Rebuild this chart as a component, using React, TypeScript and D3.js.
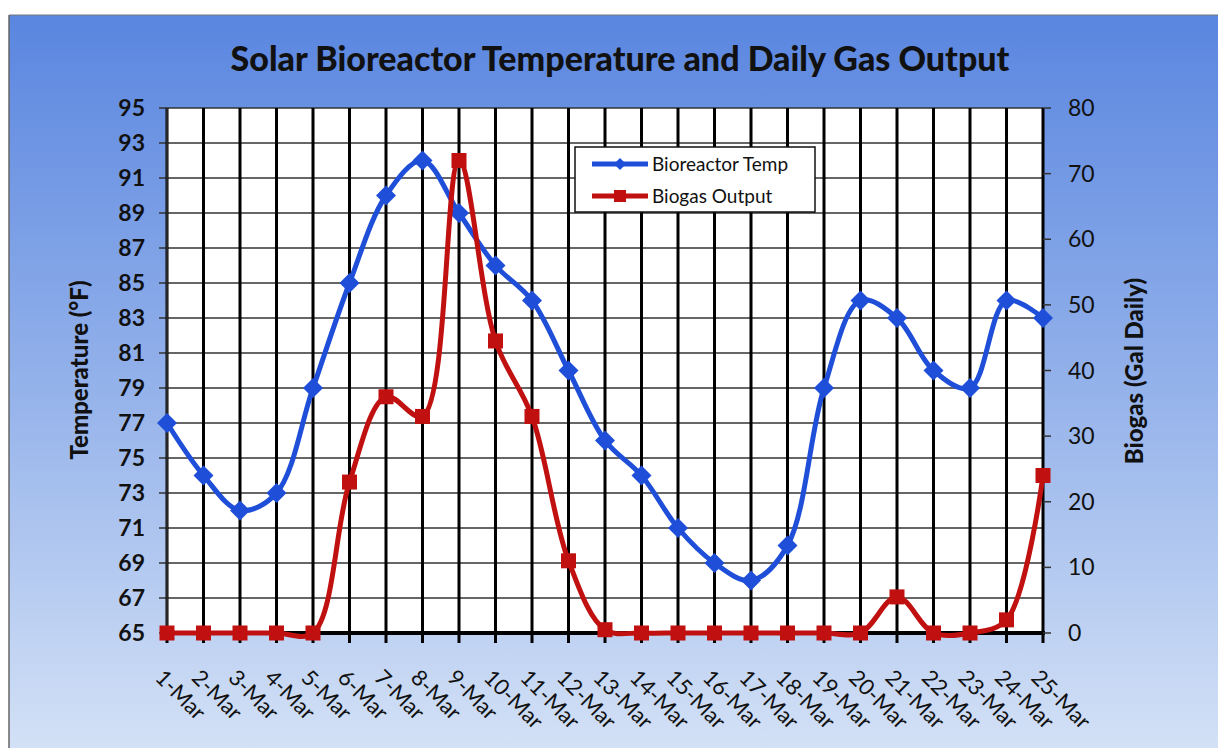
import React from "react";
import * as d3 from "d3";

const categories = ["1-Mar","2-Mar","3-Mar","4-Mar","5-Mar","6-Mar","7-Mar","8-Mar","9-Mar","10-Mar","11-Mar","12-Mar","13-Mar","14-Mar","15-Mar","16-Mar","17-Mar","18-Mar","19-Mar","20-Mar","21-Mar","22-Mar","23-Mar","24-Mar","25-Mar"];
const tempValues = [77,74,72,73,79,85,90,92,89,86,84,80,76,74,71,69,68,70,79,84,83,80,79,84,83];
const biogasValues = [0,0,0,0,0,23,36,33,72,44.5,33,11,0.5,0,0,0,0,0,0,0,5.5,0,0,2,24];
const leftTicks = [65,67,69,71,73,75,77,79,81,83,85,87,89,91,93,95];
const rightTicks = [0,10,20,30,40,50,60,70,80];

const W = 1218, H = 748;
const PL = 167, PR = 1043, PT = 108, PB = 633;
const FONT = "Lato, 'Open Sans', sans-serif";

export default function App() {
  const x = d3.scalePoint<string>().domain(categories).range([PL, PR]);
  const yL = d3.scaleLinear().domain([65, 95]).range([PB, PT]);
  const yR = d3.scaleLinear().domain([0, 80]).range([PB, PT]);
  const curve = d3.curveCatmullRom.alpha(0.5);
  const tempLine = d3.line<number>().x((_, i) => x(categories[i])!).y(d => yL(d)).curve(curve);
  const gasLine = d3.line<number>().x((_, i) => x(categories[i])!).y(d => yR(d)).curve(curve);
  const blue = "#1f4fd8";
  const red = "#c01010";
  const diamond = (cx: number, cy: number, s: number) => `M${cx},${cy - s}L${cx + s},${cy}L${cx},${cy + s}L${cx - s},${cy}Z`;

  return (
    <svg width={W} height={H} style={{ position: "absolute", left: 0, top: 0, background: "#fff" }}>
      <defs>
        <linearGradient id="bg" x1="0" y1="0" x2="0" y2="1">
          <stop offset="0" stopColor="#5a86e0" />
          <stop offset="0.5" stopColor="#93b1ea" />
          <stop offset="1" stopColor="#d3e1f6" />
        </linearGradient>
      </defs>
      <rect x={9} y={15} width={W - 9} height={H - 15} fill="url(#bg)" />
      <line x1={9} y1={15} x2={9} y2={H} stroke="#666" strokeWidth={1.5} />
      <line x1={9} y1={15} x2={W} y2={15} stroke="#777" strokeWidth={1} />
      <text x={620} y={71} textAnchor="middle" fontFamily={FONT} fontWeight={900} fontSize={34} fill="#111">
        Solar Bioreactor Temperature and Daily Gas Output
      </text>
      <rect x={PL} y={PT} width={PR - PL} height={PB - PT} fill="#fff" />
      {leftTicks.map(t => (
        <line key={"h" + t} x1={PL - 8} x2={PR} y1={yL(t)} y2={yL(t)} stroke="#333" strokeWidth={1.5} />
      ))}
      {categories.map(c => (
        <line key={"v" + c} x1={x(c)} x2={x(c)} y1={PT} y2={PB + 10} stroke="#000" strokeWidth={3} />
      ))}
      <line x1={PL} x2={PL} y1={PT} y2={PB} stroke="#333" strokeWidth={1.5} />
      <line x1={PL - 2} x2={PR + 2} y1={PB} y2={PB} stroke="#000" strokeWidth={4} />
      {rightTicks.map(t => (
        <line key={"r" + t} x1={PR} x2={PR + 8} y1={yR(t)} y2={yR(t)} stroke="#333" strokeWidth={1.5} />
      ))}
      {leftTicks.map(t => (
        <text key={"lt" + t} x={PL - 22} y={yL(t) + 8} textAnchor="end" fontFamily={FONT} fontWeight="bold" fontSize={23} fill="#111">{t}</text>
      ))}
      {rightTicks.map(t => (
        <text key={"rt" + t} x={PR + 25} y={yR(t) + 8} textAnchor="start" fontFamily={FONT} fontSize={23} fill="#111">{t}</text>
      ))}
      {categories.map(c => (
        <text key={"xl" + c} transform={`translate(${x(c)! - 13},${PB + 46}) rotate(45)`} fontFamily={FONT} fontSize={22} fill="#111">{c}</text>
      ))}
      <text transform={`translate(88,370) rotate(-90)`} textAnchor="middle" fontFamily={FONT} fontWeight={900} fontSize={24} fill="#111">Temperature (°F)</text>
      <text transform={`translate(1143,371) rotate(-90)`} textAnchor="middle" fontFamily={FONT} fontWeight={900} fontSize={24} fill="#111">Biogas (Gal Daily)</text>

      <path d={tempLine(tempValues)!} fill="none" stroke={blue} strokeWidth={5} />
      {tempValues.map((v, i) => (
        <path key={"d" + i} d={diamond(x(categories[i])!, yL(v), 10)} fill={blue} />
      ))}
      <path d={gasLine(biogasValues)!} fill="none" stroke={red} strokeWidth={5} />
      {biogasValues.map((v, i) => (
        <rect key={"s" + i} x={x(categories[i])! - 7.5} y={yR(v) - 7.5} width={15} height={15} fill={red} />
      ))}

      <rect x={575} y={147} width={240} height={65} fill="#fff" stroke="#111" strokeWidth={1.5} />
      <line x1={592} x2={648} y1={164} y2={164} stroke={blue} strokeWidth={5} />
      <path d={diamond(620, 164, 6)} fill={blue} />
      <text x={652} y={171} fontFamily={FONT} fontSize={19} fill="#111">Bioreactor Temp</text>
      <line x1={592} x2={648} y1={196} y2={196} stroke={red} strokeWidth={5} />
      <rect x={614} y={190} width={12} height={12} fill={red} />
      <text x={652} y={203} fontFamily={FONT} fontSize={19} fill="#111">Biogas Output</text>
    </svg>
  );
}
